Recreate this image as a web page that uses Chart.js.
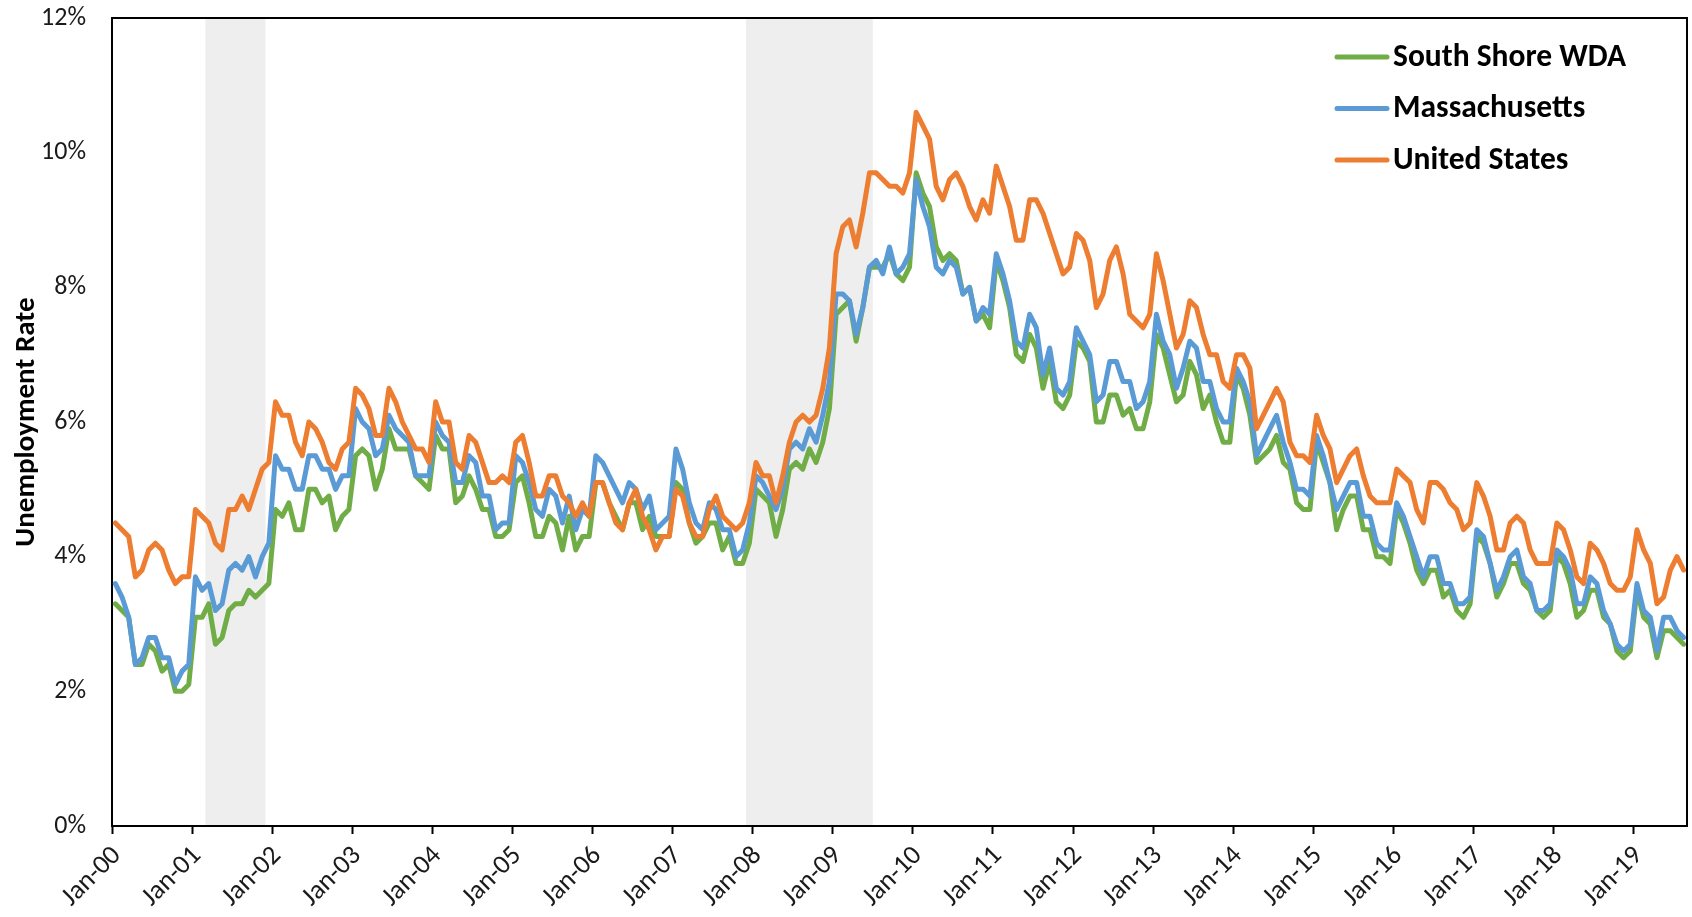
<!DOCTYPE html>
<html>
<head>
<meta charset="utf-8">
<title>Unemployment Rate</title>
<script src="https://cdn.jsdelivr.net/npm/chart.js@4.4.1/dist/chart.umd.min.js"></script>
<style>
  html, body { margin: 0; padding: 0; background: #fff; }
  #wrap { width: 1692px; height: 917px; }
</style>
</head>
<body>
<div id="wrap"><canvas id="chart" width="1692" height="917"></canvas></div>
<script>
// categories: one per month, Jan-00 .. Aug-19
let monthNames = ['Jan', 'Feb', 'Mar', 'Apr', 'May', 'Jun', 'Jul', 'Aug', 'Sep', 'Oct', 'Nov', 'Dec'];
let years = ['00', '01', '02', '03', '04', '05', '06', '07', '08', '09',
             '10', '11', '12', '13', '14', '15', '16', '17', '18', '19'];
let monthCount = 236;
let months = [];
for (let i = 0; i < monthCount; i++) {
    months.push(monthNames[i % 12] + '-' + years[Math.floor(i / 12)]);
}
let yearLabels = years.map(y => 'Jan-' + y);
let yTicks = [0, 2, 4, 6, 8, 10, 12];

// shaded recessions (first and last month)
let recessions = [['Mar-01', 'Nov-01'], ['Dec-07', 'Jun-09']];

// unemployment rate, %, one row per year
let southShore = [
    3.3, 3.2, 3.1, 2.4, 2.4, 2.7, 2.6, 2.3, 2.4, 2.0, 2.0, 2.1,
    3.1, 3.1, 3.3, 2.7, 2.8, 3.2, 3.3, 3.3, 3.5, 3.4, 3.5, 3.6,
    4.7, 4.6, 4.8, 4.4, 4.4, 5.0, 5.0, 4.8, 4.9, 4.4, 4.6, 4.7,
    5.5, 5.6, 5.5, 5.0, 5.3, 5.9, 5.6, 5.6, 5.6, 5.2, 5.1, 5.0,
    5.8, 5.6, 5.6, 4.8, 4.9, 5.2, 5.0, 4.7, 4.7, 4.3, 4.3, 4.4,
    5.1, 5.2, 4.8, 4.3, 4.3, 4.6, 4.5, 4.1, 4.6, 4.1, 4.3, 4.3,
    5.1, 5.1, 4.8, 4.6, 4.4, 4.8, 4.8, 4.4, 4.6, 4.3, 4.3, 4.3,
    5.1, 5.0, 4.5, 4.2, 4.3, 4.5, 4.5, 4.1, 4.3, 3.9, 3.9, 4.2,
    5.0, 4.9, 4.8, 4.3, 4.7, 5.3, 5.4, 5.3, 5.6, 5.4, 5.7, 6.2,
    7.6, 7.7, 7.8, 7.2, 7.7, 8.3, 8.3, 8.3, 8.5, 8.2, 8.1, 8.3,
    9.7, 9.4, 9.2, 8.6, 8.4, 8.5, 8.4, 7.9, 8.0, 7.5, 7.6, 7.4,
    8.4, 8.1, 7.7, 7.0, 6.9, 7.3, 7.1, 6.5, 6.9, 6.3, 6.2, 6.4,
    7.2, 7.1, 6.9, 6.0, 6.0, 6.4, 6.4, 6.1, 6.2, 5.9, 5.9, 6.3,
    7.3, 7.1, 6.7, 6.3, 6.4, 6.9, 6.7, 6.2, 6.4, 6.0, 5.7, 5.7,
    6.7, 6.5, 6.1, 5.4, 5.5, 5.6, 5.8, 5.4, 5.3, 4.8, 4.7, 4.7,
    5.7, 5.4, 5.1, 4.4, 4.7, 4.9, 4.9, 4.4, 4.4, 4.0, 4.0, 3.9,
    4.7, 4.5, 4.2, 3.8, 3.6, 3.8, 3.8, 3.4, 3.5, 3.2, 3.1, 3.3,
    4.3, 4.2, 3.9, 3.4, 3.6, 3.9, 3.9, 3.6, 3.5, 3.2, 3.1, 3.2,
    4.0, 3.9, 3.6, 3.1, 3.2, 3.5, 3.5, 3.1, 3.0, 2.6, 2.5, 2.6,
    3.5, 3.1, 3.0, 2.5, 2.9, 2.9, 2.8, 2.7
];
let massachusetts = [
    3.6, 3.4, 3.1, 2.4, 2.5, 2.8, 2.8, 2.5, 2.5, 2.1, 2.3, 2.4,
    3.7, 3.5, 3.6, 3.2, 3.3, 3.8, 3.9, 3.8, 4.0, 3.7, 4.0, 4.2,
    5.5, 5.3, 5.3, 5.0, 5.0, 5.5, 5.5, 5.3, 5.3, 5.0, 5.2, 5.2,
    6.2, 6.0, 5.9, 5.5, 5.6, 6.1, 5.9, 5.8, 5.7, 5.2, 5.2, 5.2,
    6.0, 5.8, 5.7, 5.1, 5.1, 5.5, 5.4, 4.9, 4.9, 4.4, 4.5, 4.5,
    5.5, 5.4, 5.1, 4.7, 4.6, 5.0, 4.9, 4.5, 4.9, 4.4, 4.7, 4.6,
    5.5, 5.4, 5.2, 5.0, 4.8, 5.1, 5.0, 4.7, 4.9, 4.4, 4.5, 4.6,
    5.6, 5.3, 4.8, 4.5, 4.4, 4.8, 4.7, 4.4, 4.4, 4.0, 4.1, 4.5,
    5.2, 5.1, 4.9, 4.7, 5.0, 5.6, 5.7, 5.6, 5.9, 5.7, 6.1, 6.6,
    7.9, 7.9, 7.8, 7.3, 7.7, 8.3, 8.4, 8.2, 8.6, 8.2, 8.3, 8.5,
    9.6, 9.2, 8.9, 8.3, 8.2, 8.4, 8.3, 7.9, 8.0, 7.5, 7.7, 7.6,
    8.5, 8.2, 7.8, 7.2, 7.1, 7.6, 7.4, 6.7, 7.1, 6.5, 6.4, 6.6,
    7.4, 7.2, 7.0, 6.3, 6.4, 6.9, 6.9, 6.6, 6.6, 6.2, 6.3, 6.6,
    7.6, 7.2, 7.0, 6.5, 6.8, 7.2, 7.1, 6.6, 6.6, 6.2, 6.0, 6.0,
    6.8, 6.6, 6.3, 5.5, 5.7, 5.9, 6.1, 5.7, 5.4, 5.0, 5.0, 4.9,
    5.8, 5.5, 5.1, 4.7, 4.9, 5.1, 5.1, 4.6, 4.6, 4.2, 4.1, 4.1,
    4.8, 4.6, 4.3, 4.0, 3.7, 4.0, 4.0, 3.6, 3.6, 3.3, 3.3, 3.4,
    4.4, 4.3, 3.9, 3.5, 3.7, 4.0, 4.1, 3.7, 3.6, 3.2, 3.2, 3.3,
    4.1, 4.0, 3.8, 3.3, 3.3, 3.7, 3.6, 3.2, 3.0, 2.7, 2.6, 2.7,
    3.6, 3.2, 3.1, 2.6, 3.1, 3.1, 2.9, 2.8
];
let unitedStates = [
    4.5, 4.4, 4.3, 3.7, 3.8, 4.1, 4.2, 4.1, 3.8, 3.6, 3.7, 3.7,
    4.7, 4.6, 4.5, 4.2, 4.1, 4.7, 4.7, 4.9, 4.7, 5.0, 5.3, 5.4,
    6.3, 6.1, 6.1, 5.7, 5.5, 6.0, 5.9, 5.7, 5.4, 5.3, 5.6, 5.7,
    6.5, 6.4, 6.2, 5.8, 5.8, 6.5, 6.3, 6.0, 5.8, 5.6, 5.6, 5.4,
    6.3, 6.0, 6.0, 5.4, 5.3, 5.8, 5.7, 5.4, 5.1, 5.1, 5.2, 5.1,
    5.7, 5.8, 5.4, 4.9, 4.9, 5.2, 5.2, 4.9, 4.8, 4.6, 4.8, 4.6,
    5.1, 5.1, 4.8, 4.5, 4.4, 4.8, 5.0, 4.6, 4.4, 4.1, 4.3, 4.3,
    5.0, 4.9, 4.5, 4.3, 4.3, 4.7, 4.9, 4.6, 4.5, 4.4, 4.5, 4.8,
    5.4, 5.2, 5.2, 4.8, 5.2, 5.7, 6.0, 6.1, 6.0, 6.1, 6.5, 7.1,
    8.5, 8.9, 9.0, 8.6, 9.1, 9.7, 9.7, 9.6, 9.5, 9.5, 9.4, 9.7,
    10.6, 10.4, 10.2, 9.5, 9.3, 9.6, 9.7, 9.5, 9.2, 9.0, 9.3, 9.1,
    9.8, 9.5, 9.2, 8.7, 8.7, 9.3, 9.3, 9.1, 8.8, 8.5, 8.2, 8.3,
    8.8, 8.7, 8.4, 7.7, 7.9, 8.4, 8.6, 8.2, 7.6, 7.5, 7.4, 7.6,
    8.5, 8.1, 7.6, 7.1, 7.3, 7.8, 7.7, 7.3, 7.0, 7.0, 6.6, 6.5,
    7.0, 7.0, 6.8, 5.9, 6.1, 6.3, 6.5, 6.3, 5.7, 5.5, 5.5, 5.4,
    6.1, 5.8, 5.6, 5.1, 5.3, 5.5, 5.6, 5.2, 4.9, 4.8, 4.8, 4.8,
    5.3, 5.2, 5.1, 4.7, 4.5, 5.1, 5.1, 5.0, 4.8, 4.7, 4.4, 4.5,
    5.1, 4.9, 4.6, 4.1, 4.1, 4.5, 4.6, 4.5, 4.1, 3.9, 3.9, 3.9,
    4.5, 4.4, 4.1, 3.7, 3.6, 4.2, 4.1, 3.9, 3.6, 3.5, 3.5, 3.7,
    4.4, 4.1, 3.9, 3.3, 3.4, 3.8, 4.0, 3.8
];

let fontFamily = 'Carlito, Lato, "Liberation Sans", sans-serif';
let textColor = '#1a1a1a';

function points(values) {
    return values.map((v, i) => ({ x: i, y: v }));
}

function series(label, values, color, order) {
    return {
        label: label,
        data: points(values),
        borderColor: color,
        backgroundColor: color,
        borderWidth: 5,
        borderJoinStyle: 'round',
        borderCapStyle: 'round',
        pointRadius: 0,
        tension: 0,
        order: order
    };
}

/* recession bands, plot frame and the legend inside the plot */
let decorations = {
    id: 'decorations',
    beforeDraw(chart) {
        let ctx = chart.ctx;
        let a = chart.chartArea;
        let xs = chart.scales.x;
        ctx.save();
        ctx.fillStyle = '#eeeeee';
        recessions.forEach(r => {
            let x0 = xs.getPixelForValue(months.indexOf(r[0]) - 0.5);
            let x1 = xs.getPixelForValue(months.indexOf(r[1]) + 0.5);
            ctx.fillRect(x0, a.top, x1 - x0, a.bottom - a.top);
        });
        ctx.restore();
    },
    afterDraw(chart) {
        let ctx = chart.ctx;
        let a = chart.chartArea;
        ctx.save();
        ctx.strokeStyle = '#000';
        ctx.lineWidth = 2;
        ctx.beginPath();
        ctx.moveTo(a.left, a.top);
        ctx.lineTo(a.right, a.top);
        ctx.lineTo(a.right, a.bottom);
        ctx.stroke();

        ctx.font = 'bold 31.5px ' + fontFamily;
        ctx.textBaseline = 'middle';
        ctx.textAlign = 'left';
        ctx.lineCap = 'round';
        chart.data.datasets.forEach((ds, k) => {
            let y = a.top + 39 + k * 51.5;
            let x0 = a.right - 350;
            ctx.strokeStyle = ds.borderColor;
            ctx.lineWidth = 5;
            ctx.beginPath();
            ctx.moveTo(x0, y);
            ctx.lineTo(x0 + 50, y);
            ctx.stroke();
            ctx.fillStyle = '#000';
            ctx.fillText(ds.label, x0 + 56, y + 1);
        });
        ctx.restore();
    }
};

let ctx = document.getElementById('chart').getContext('2d');
new Chart(ctx, {
    type: 'line',
    data: {
        datasets: [
            series('South Shore WDA', southShore, '#70AD47', 3),
            series('Massachusetts', massachusetts, '#5B9BD5', 2),
            series('United States', unitedStates, '#ED7D31', 1)
        ]
    },
    options: {
        responsive: false,
        animation: false,
        devicePixelRatio: 1,
        layout: { padding: { top: 18, right: 5, left: 0, bottom: 0 } },
        plugins: {
            legend: { display: false },
            tooltip: { enabled: false }
        },
        scales: {
            x: {
                type: 'linear',
                min: -0.5,
                max: months.length - 0.5,
                afterBuildTicks: axis => {
                    axis.ticks = yearLabels.map(l => ({ value: months.indexOf(l) - 0.5 }));
                },
                afterFit: axis => { axis.height = 91; },
                border: { display: true, color: '#000', width: 2 },
                grid: {
                    drawOnChartArea: false,
                    drawTicks: true,
                    tickLength: 8,
                    tickWidth: 2,
                    tickColor: '#000'
                },
                ticks: {
                    autoSkip: false,
                    minRotation: 45,
                    maxRotation: 45,
                    padding: 6,
                    labelOffset: 5,
                    color: textColor,
                    font: { family: fontFamily, size: 27 },
                    callback: value => months[value + 0.5]
                }
            },
            y: {
                min: 0,
                max: 12,
                afterBuildTicks: axis => {
                    axis.ticks = yTicks.map(v => ({ value: v }));
                },
                afterFit: axis => {
                    axis.width = 112;
                    axis.paddingTop = 0;
                    axis.paddingBottom = 0;
                },
                border: { display: true, color: '#000', width: 2 },
                grid: { drawOnChartArea: false, drawTicks: false },
                ticks: {
                    padding: 26,
                    color: textColor,
                    font: { family: fontFamily, size: 26 },
                    callback: value => value + '%'
                },
                title: {
                    display: true,
                    text: 'Unemployment Rate',
                    color: '#000',
                    padding: { top: 9, bottom: 0 },
                    font: { family: fontFamily, size: 29, weight: 'bold' }
                }
            }
        }
    },
    plugins: [decorations]
});
</script>
</body>
</html>
